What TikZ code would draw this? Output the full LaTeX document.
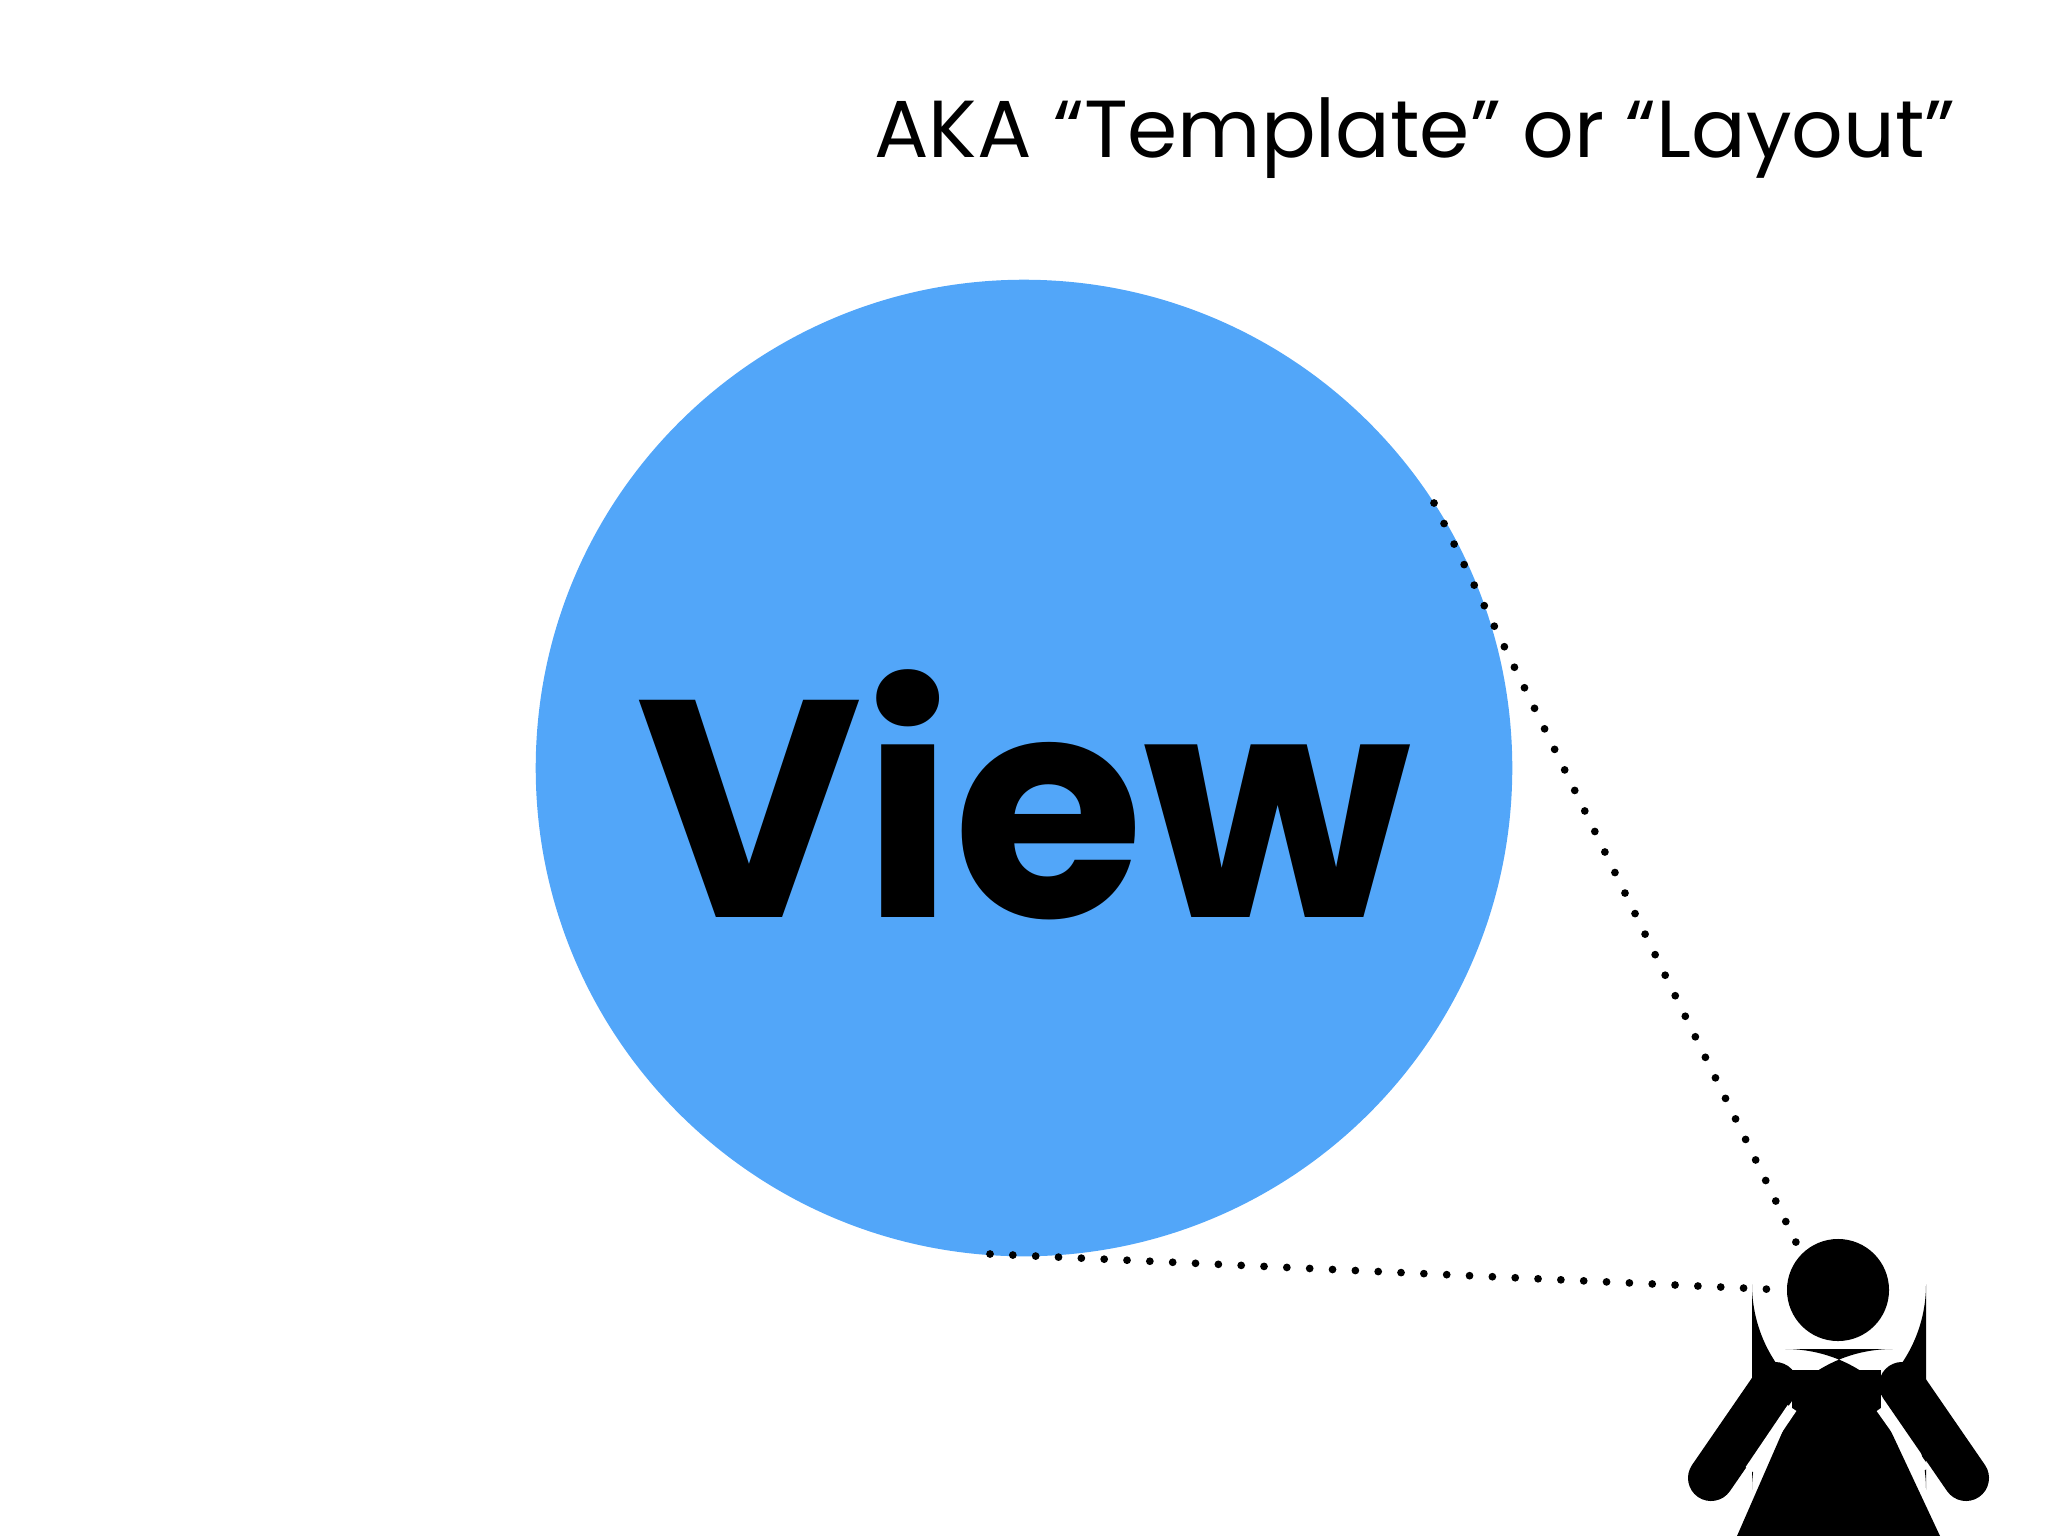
\documentclass[tikz,border=0pt]{standalone}
\usepackage{fontspec}
\setmainfont{Poppins}
\definecolor{viewblue}{HTML}{52A6F9}
\begin{document}
\begin{tikzpicture}[x=0.01cm,y=-0.01cm,
  dotline/.style={line width=2.2pt,dash pattern=on 0pt off 6.5pt,line cap=round},
  fig/.style={fill=black,draw=none}]
\useasboundingbox (0,0) rectangle (2048,1536);
\node[circle,fill=viewblue,minimum size=976\pgflinewidth*0+9.76cm,inner sep=0] (view) at (1024,768) {};
\node[font=\fontsize{88pt}{90pt}\selectfont\bfseries] (vt) at (1024,795) {View};
\node[anchor=base east,font=\fontsize{23pt}{26pt}\selectfont] (aka) at (1968,157) {AKA “Template” or “Layout”};
% person
\node[circle,fill=black,minimum size=1.02cm,inner sep=0] (head) at (1838,1290) {};
\fill[rounded corners=40] (1752,1425) -- (1752,1349) -- (1926,1349) -- (1926,1425) -- cycle;
\draw[line width=0.46cm,line cap=round] (1775,1385) -- (1711,1478);
\draw[line width=0.46cm,line cap=round] (1902,1385) -- (1966,1478);
\fill (1792,1370) rectangle (1881,1420);
\fill (1792,1410) -- (1881,1410) -- (1940,1536) -- (1737,1536) -- cycle;
\draw[white,line width=3pt] (1792,1408) -- (1750,1470);
\draw[white,line width=3pt] (1881,1408) -- (1925,1470);
\coordinate (p1) at (1434,503);
\coordinate (p2) at (990,1254);
\draw[dotline] (p1) -- (head.north west);
\draw[dotline] (p2) -- (head.west);
\end{tikzpicture}
\end{document}
